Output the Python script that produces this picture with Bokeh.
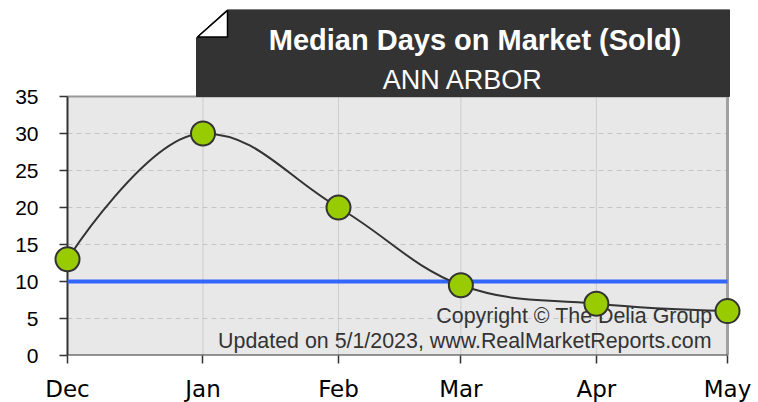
import pandas as pd
from bokeh.plotting import figure
from bokeh.models import Range1d, FixedTicker, DatetimeTickFormatter, Label
from bokeh.embed import file_html
from bokeh.resources import INLINE

# ---- data ----
months = ["Dec", "Jan", "Feb", "Mar", "Apr", "May"]
dates = ["2022-12-01", "2023-01-01", "2023-02-01", "2023-03-01", "2023-04-01", "2023-05-01"]
median_days = [13, 30, 20, 9.5, 7, 6]
reference_line = [10, 10, 10, 10, 10, 10]
y_ticks = [0, 5, 10, 15, 20, 25, 30, 35]
title_text = "Median Days on Market (Sold)"
subtitle_text = "ANN ARBOR"
credit_1 = "Copyright \u00a9 The Delia Group"
credit_2 = "Updated on 5/1/2023, www.RealMarketReports.com"

x_ms = [pd.Timestamp(d).value / 1e6 for d in dates]

# ---- layout (pixels) ----
W, H = 758, 402
FL, FR, FT, FB = 53, 741, 9, 355        # frame edges
PL, PR, PT = 67, 727, 96                # plot-area edges (Dec, May, y=35)
ms_per_px = (x_ms[-1] - x_ms[0]) / (PR - PL)
y_max = y_ticks[-1]
u_per_px = y_max / (FB - PT)


def px_x(px):
    return x_ms[0] + (px - PL) * ms_per_px


def px_y(py):
    return (FB - py) * u_per_px


def spline_controls(xs, ys, smoothing=1.5):
    n = len(xs)
    denom = smoothing + 1
    left = [(xs[i], ys[i]) for i in range(n)]
    right = [(xs[i], ys[i]) for i in range(n)]
    for i in range(1, n - 1):
        x, y = xs[i], ys[i]
        lx = (smoothing * x + xs[i - 1]) / denom
        ly = (smoothing * y + ys[i - 1]) / denom
        rx = (smoothing * x + xs[i + 1]) / denom
        ry = (smoothing * y + ys[i + 1]) / denom
        if rx != lx:
            corr = ((ry - ly) * (rx - x)) / (rx - lx) + y - ry
            ly += corr
            ry += corr
        if ly > ys[i - 1] and ly > y:
            ly = max(ys[i - 1], y); ry = 2 * y - ly
        elif ly < ys[i - 1] and ly < y:
            ly = min(ys[i - 1], y); ry = 2 * y - ly
        if ry > ys[i + 1] and ry > y:
            ry = max(ys[i + 1], y); ly = 2 * y - ry
        elif ry < ys[i + 1] and ry < y:
            ry = min(ys[i + 1], y); ly = 2 * y - ry
        left[i] = (lx, ly)
        right[i] = (rx, ry)
    return left, right


left_c, right_c = spline_controls(x_ms, median_days)

p = figure(x_axis_type="datetime", frame_width=FR - FL, frame_height=FB - FT,
           output_backend="svg", toolbar_location=None,
           x_range=Range1d(px_x(FL), px_x(FR)), y_range=Range1d(0, px_y(FT)),
           min_border_left=FL, min_border_right=W - FR, min_border_top=FT,
           min_border_bottom=H - FB,
           background_fill_color="white", border_fill_color="white")
p.outline_line_color = None
p.grid.visible = False

# plot area background
p.quad(left=[x_ms[0]], right=[x_ms[-1]], bottom=[y_ticks[0]], top=[y_ticks[-1]],
       fill_color="#E8E8E8", line_color=None, level="image")

# grid lines
p.segment(x0=x_ms[1:-1], y0=[y_ticks[0]] * 4, x1=x_ms[1:-1], y1=[y_ticks[-1]] * 4,
          line_color="#CCCCCC", line_width=1, level="underlay")
p.segment(x0=[x_ms[0]] * 6, y0=y_ticks[1:-1], x1=[x_ms[-1]] * 6, y1=y_ticks[1:-1],
          line_color="#C4C4C4", line_width=1, line_dash="5 4", level="underlay")

# borders
p.segment(x0=[x_ms[0]], y0=[y_ticks[-1]], x1=[x_ms[-1]], y1=[y_ticks[-1]],
          line_color="#999999", line_width=2)
p.segment(x0=[x_ms[-1]], y0=[y_ticks[0]], x1=[x_ms[-1]], y1=[y_ticks[-1]],
          line_color="#A0A0A0", line_width=3)
p.segment(x0=[x_ms[0]], y0=[y_ticks[0]], x1=[x_ms[0]], y1=[y_ticks[-1]],
          line_color="#333333", line_width=2)
p.segment(x0=[x_ms[0]], y0=[y_ticks[0]], x1=[x_ms[-1]], y1=[y_ticks[0]],
          line_color="#333333", line_width=2)

# axes
p.xaxis.ticker = FixedTicker(ticks=x_ms)
p.xaxis.formatter = DatetimeTickFormatter(days="%b", months="%b", years="%b", hours="%b")
p.yaxis.ticker = FixedTicker(ticks=y_ticks)
for ax in (p.xaxis, p.yaxis):
    ax.axis_line_color = None
    ax.major_tick_line_color = "#333333"
    ax.major_tick_line_width = 1.5
    ax.minor_tick_line_color = None
    ax.major_label_text_color = "black"
p.xaxis.major_tick_out = 8
p.xaxis.major_tick_in = 0
p.yaxis.major_tick_in = PL - FL
p.yaxis.major_tick_out = -6
p.yaxis.major_label_text_font = "Liberation Sans"
p.yaxis.major_label_text_font_size = "21px"
p.yaxis.major_label_standoff = 15
p.xaxis.major_label_text_font = "DejaVu Sans"
p.xaxis.major_label_text_font_size = "23px"
p.xaxis.major_label_standoff = 12

# credits (under the series)
p.add_layout(Label(x=712, y=315, x_units="canvas", y_units="canvas", text=credit_1,
                   text_align="right", text_baseline="middle", text_color="#333333",
                   text_font="Liberation Sans", text_font_size="21.4px", level="underlay"))
p.add_layout(Label(x=711, y=340, x_units="canvas", y_units="canvas", text=credit_2,
                   text_align="right", text_baseline="middle", text_color="#333333",
                   text_font="Liberation Sans", text_font_size="21.4px", level="underlay"))

# reference line
p.line(x_ms, reference_line, line_color="#3366FF", line_width=4)

# spline
p.bezier(x0=x_ms[:-1], y0=median_days[:-1], x1=x_ms[1:], y1=median_days[1:],
         cx0=[c[0] for c in right_c[:-1]], cy0=[c[1] for c in right_c[:-1]],
         cx1=[c[0] for c in left_c[1:]], cy1=[c[1] for c in left_c[1:]],
         line_color="#333333", line_width=2)

p.scatter(x_ms, median_days, size=24, fill_color="#99CC00", line_color="#333333", line_width=2)

# title box with folded corner
p.patch(x=[px_x(v) for v in (227, 729, 729, 196, 196)],
        y=[px_y(v) for v in (9, 9, 96, 96, 37)],
        fill_color="#333333", line_color="#333333", line_width=1)
p.patch(x=[px_x(v) for v in (197, 227, 227)],
        y=[px_y(v) for v in (36.5, 10, 36.5)],
        fill_color="white", line_color="black", line_width=1.5)
p.add_layout(Label(x=474.5, y=39.5, x_units="canvas", y_units="canvas", text=title_text,
                   text_align="center", text_baseline="alphabetic", text_color="white",
                   text_font="Liberation Sans", text_font_style="bold", text_font_size="29px"))
p.add_layout(Label(x=462.5, y=79.5, x_units="canvas", y_units="canvas", text=subtitle_text,
                   text_align="center", text_baseline="alphabetic", text_color="white",
                   text_font="Liberation Sans", text_font_size="27px"))

open("out.html", "w").write(file_html(p, INLINE))
